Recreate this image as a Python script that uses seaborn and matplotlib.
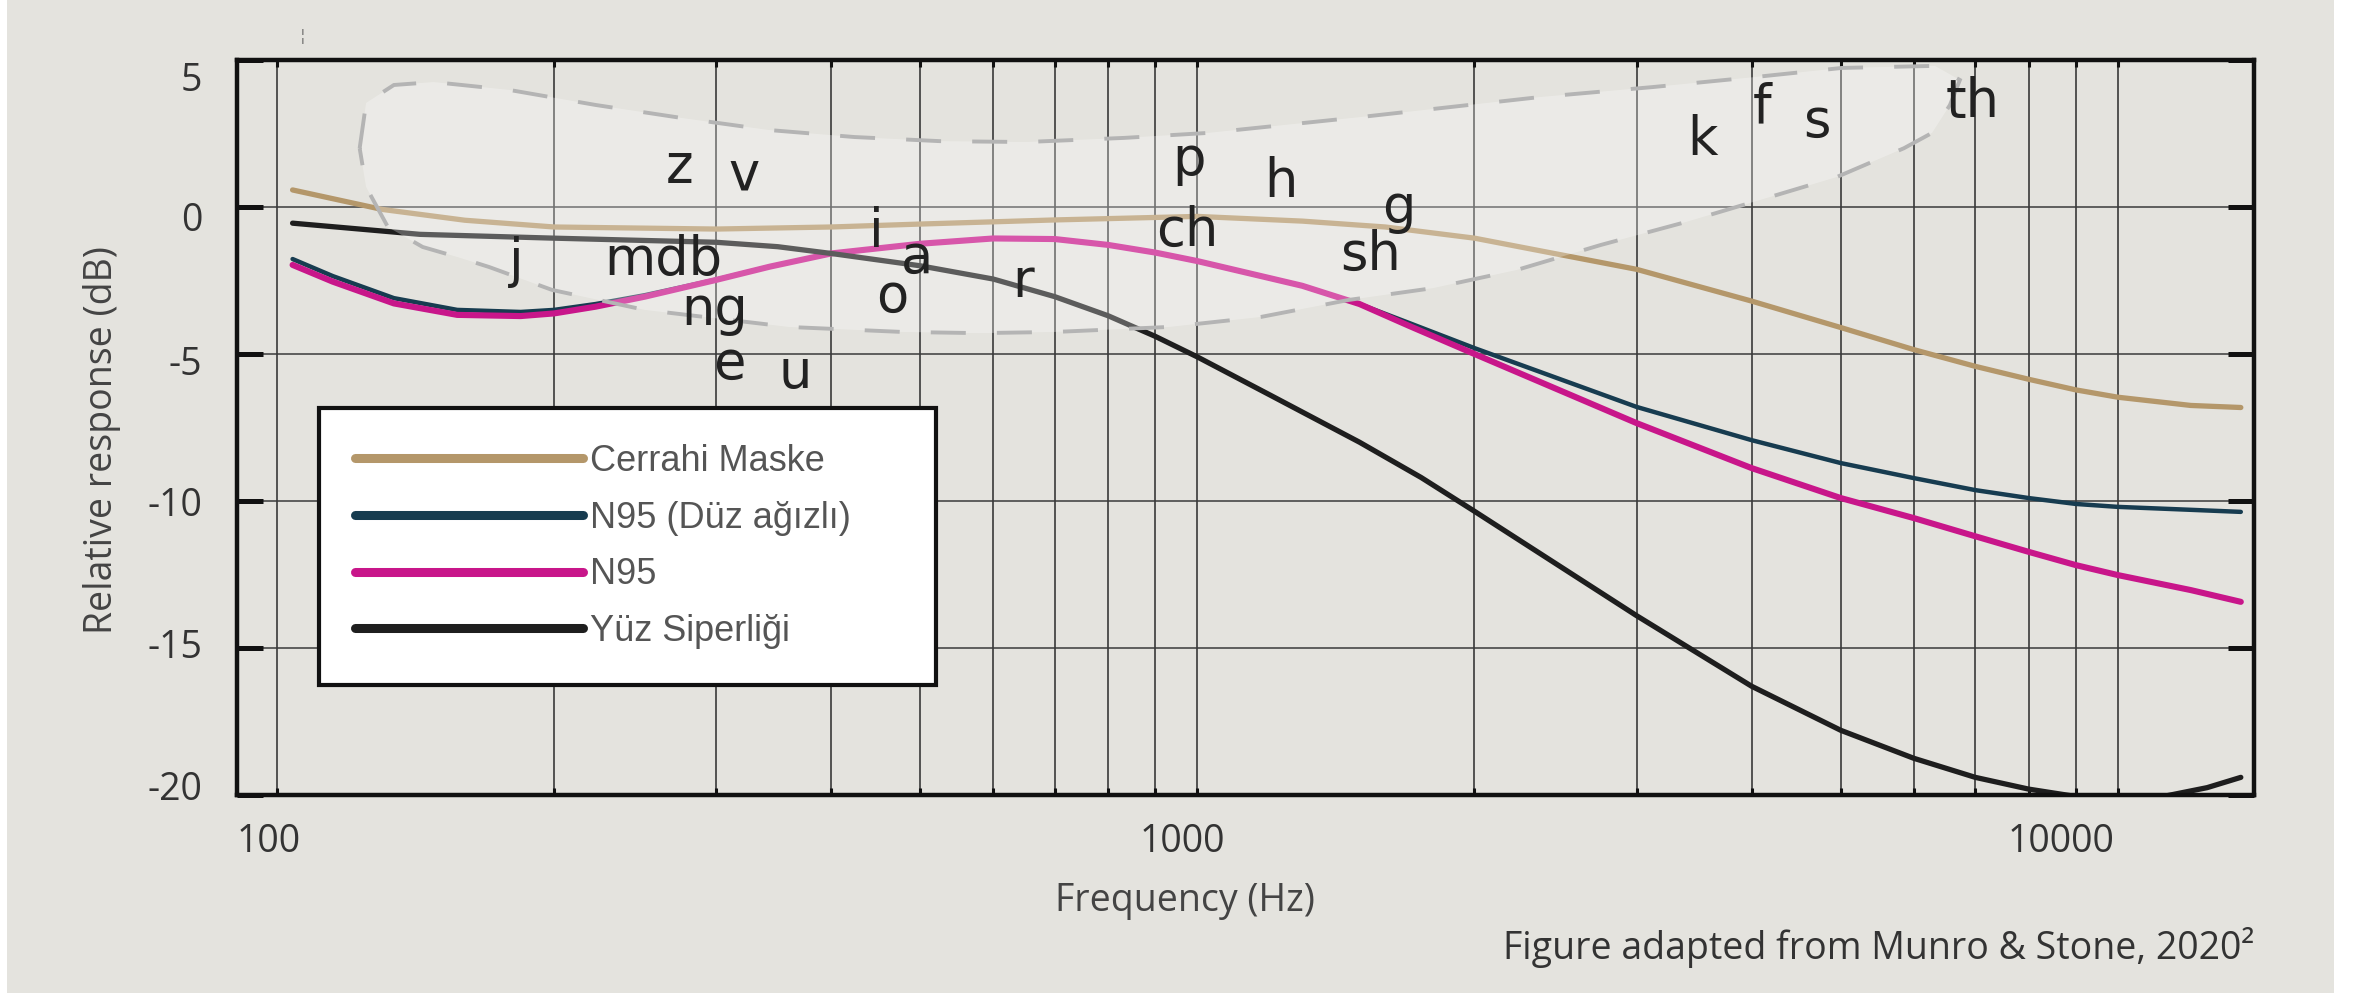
import numpy as np
import pandas as pd
import matplotlib
matplotlib.use('Agg')
import matplotlib.pyplot as plt
import matplotlib.transforms as mtransforms
from matplotlib.patches import Rectangle
from matplotlib.ticker import LogLocator, NullFormatter
import seaborn as sns

# Curves: frequency (Hz) and relative response (dB)
cerrahi_freq = [104, 130, 160, 200, 300, 400, 500, 700, 1000, 1300, 1600, 2000,
                3000, 4000, 5000, 6000, 7000, 8000, 9000, 10000, 12000, 13600]
cerrahi_db = [0.58, -0.08, -0.45, -0.68, -0.75, -0.68, -0.58, -0.44, -0.32, -0.48,
              -0.68, -1.06, -2.12, -3.2, -4.1, -4.85, -5.42, -5.86, -6.22, -6.47,
              -6.75, -6.82]

n95_flat_freq = [104, 115, 134, 157, 184, 200, 222, 251, 300, 343, 400, 500, 600,
                 700, 800, 900, 1000, 1300, 1500, 1700, 2000, 3000, 4000, 5000,
                 6000, 7000, 8000, 9000, 10000, 12000, 13600]
n95_flat_db = [-1.77, -2.35, -3.1, -3.5, -3.57, -3.5, -3.3, -3.0, -2.47, -2.03,
               -1.58, -1.25, -1.07, -1.09, -1.29, -1.55, -1.84, -2.68, -3.3, -3.95,
               -4.8, -6.8, -7.93, -8.71, -9.22, -9.63, -9.9, -10.1, -10.2, -10.3,
               -10.37]

n95_freq = [104, 115, 134, 157, 184, 200, 222, 251, 300, 343, 400, 500, 600, 700,
            800, 900, 1000, 1300, 1500, 1700, 2000, 3000, 4000, 5000, 6000, 7000,
            8000, 9000, 10000, 12000, 13600]
n95_db = [-1.97, -2.54, -3.28, -3.67, -3.71, -3.62, -3.39, -3.05, -2.48, -2.03,
          -1.58, -1.25, -1.07, -1.09, -1.29, -1.55, -1.84, -2.68, -3.3, -4.05,
          -5.0, -7.35, -8.88, -9.9, -10.58, -11.2, -11.73, -12.18, -12.52, -13.03,
          -13.43]

shield_freq = [104, 143, 200, 300, 350, 400, 500, 600, 700, 800, 900, 1000, 1200,
               1500, 1750, 2000, 3000, 4000, 5000, 6000, 7000, 8000, 9000, 10000,
               11200, 12500, 13600]
shield_db = [-0.55, -0.93, -1.06, -1.2, -1.35, -1.58, -2.0, -2.45, -3.05, -3.7,
             -4.4, -5.1, -6.4, -8.0, -9.2, -10.35, -13.9, -16.3, -17.8, -18.75,
             -19.4, -19.8, -20.05, -20.15, -20.05, -19.75, -19.4]

series_names = ['Cerrahi Maske', 'N95 (Düz ağızlı)', 'N95', 'Yüz Siperliği']

# Speech "banana" outline (frequency, dB)
banana_freq = [123, 125, 134, 148, 179, 222, 275, 342, 424, 525, 651, 832, 1027,
               1505, 2356, 3125, 4033, 5013, 6327, 6735, 6570, 6282, 5856, 4950,
               4188, 3394, 2744, 2224, 1802, 1461, 1172, 931, 700, 579, 478, 360,
               251, 199, 170, 157, 144, 132, 125]
banana_db = [2.0, 3.54, 4.15, 4.25, 3.98, 3.47, 3.03, 2.62, 2.38, 2.24, 2.21, 2.35,
             2.52, 3.06, 3.74, 4.08, 4.42, 4.73, 4.80, 4.32, 3.47, 2.52, 2.0, 1.02,
             0.34, -0.51, -1.29, -2.14, -2.76, -3.16, -3.74, -4.08, -4.25, -4.29,
             -4.25, -4.08, -3.5, -2.82, -2.04, -1.70, -1.36, -0.68, 0.68]

phoneme_labels = ['z', 'v', 'j', 'mdb', 'ng', 'e', 'u', 'i', 'a', 'o', 'r', 'p',
                  'ch', 'h', 'g', 'sh', 'k', 'f', 's', 'th']
phoneme_freq = [274, 322, 182, 263, 299, 310, 366, 448, 496, 466, 646, 980, 975,
                1233, 1656, 1543, 3540, 4110, 4707, 6950]
phoneme_db = [1.36, 1.09, -1.87, -1.8, -3.5, -5.35, -5.65, -0.85, -1.73, -3.06,
              -2.55, 1.6, -0.8, 0.85, -0.03, -1.63, 2.28, 3.4, 2.9, 3.57]

x_ticks = [100, 1000, 10000]
x_tick_labels = ['100', '1000', '10000']
y_ticks = [5, 0, -5, -10, -15, -20]

# styling
BG = '#e4e3de'
line_colors = ['#b4976a', '#173c50', '#c8168a', '#1e1e1e']
line_widths = [3.8, 3.2, 4.4, 3.8]
x_label_shift = [-8, -15, -57]          # pixels
y_label_shift = [-17, -10, -7, 0, 5, 9]  # pixels


def build_df():
    frames = []
    for name, f, d in zip(series_names,
                          [cerrahi_freq, n95_flat_freq, n95_freq, shield_freq],
                          [cerrahi_db, n95_flat_db, n95_db, shield_db]):
        frames.append(pd.DataFrame({'Frequency': f, 'Response': d, 'Mask': name}))
    return pd.concat(frames, ignore_index=True)


def plot_chart(df):
    sns.set_style('ticks')
    plt.rcParams['font.family'] = ['Open Sans', 'DejaVu Sans']
    plt.rcParams['axes.unicode_minus'] = False
    plt.rcParams['lines.solid_capstyle'] = 'round'

    fig = plt.figure(figsize=(23.54, 9.93), dpi=100, facecolor='white')
    fig.add_artist(Rectangle((7 / 2354, 0), (2334 - 7) / 2354, 1,
                             transform=fig.transFigure, facecolor=BG,
                             edgecolor='none', zorder=-10))
    ax = fig.add_axes([237 / 2354, 1 - 795 / 993, 2017 / 2354, 735 / 993])
    ax.set_facecolor(BG)
    ax.set_xscale('log')

    for name, color, lw in zip(series_names, line_colors, line_widths):
        sns.lineplot(data=df[df['Mask'] == name], x='Frequency', y='Response',
                     color=color, linewidth=lw, estimator=None, sort=False,
                     label=name, legend=False, ax=ax, zorder=2)

    # speech banana, drawn over the curves so they fade inside it
    ax.fill(banana_freq, banana_db, facecolor=(1, 1, 1, 0.28),
            edgecolor='#b4b4b4', linestyle=(0, (9, 8)), linewidth=2.8, zorder=3)

    for lbl, f, d in zip(phoneme_labels, phoneme_freq, phoneme_db):
        ax.text(f, d, lbl, fontsize=38, family='DejaVu Sans', color='#222222',
                ha='center', va='center', zorder=4)

    ax.set_xlim(90.5, 14056)
    ax.set_ylim(-20, 5)
    ax.set_xticks(x_ticks, x_tick_labels)
    ax.xaxis.set_minor_locator(LogLocator(base=10, subs=np.arange(2, 10)))
    ax.xaxis.set_minor_formatter(NullFormatter())
    ax.set_yticks(y_ticks, [str(v) for v in y_ticks])

    ax.grid(True, which='both', axis='x', color='#2a2a2a', linewidth=1.1)
    ax.grid(True, which='major', axis='y', color='#3a3a3a', linewidth=1.1)

    ax.tick_params(axis='y', which='major', direction='in', left=True, right=True,
                   length=19, width=3.6, color='#111111', pad=25,
                   labelsize=27, labelcolor='#333333')
    ax.tick_params(axis='x', which='both', direction='in', top=True, bottom=True,
                   length=5, width=2.2, color='#111111')
    ax.tick_params(axis='x', which='major', pad=20, labelsize=27,
                   labelcolor='#333333')
    for s in ax.spines.values():
        s.set_visible(True)
        s.set_linewidth(3.2)
        s.set_color('#111111')

    for lab, dx in zip(ax.get_xticklabels(), x_label_shift):
        lab.set_transform(lab.get_transform() +
                          mtransforms.ScaledTranslation(dx / 100, 0, fig.dpi_scale_trans))
    for lab, dy in zip(ax.get_yticklabels(), y_label_shift):
        lab.set_transform(lab.get_transform() +
                          mtransforms.ScaledTranslation(0, dy / 100, fig.dpi_scale_trans))

    ax.set_xlabel('Frequency (Hz)', fontsize=27, color='#444444', va='center')
    ax.xaxis.set_label_coords(0.470, -0.144)
    ax.set_ylabel('Relative response (dB)', fontsize=27, color='#444444', va='center')
    ax.yaxis.set_label_coords(-0.067, 0.483)

    leg = ax.legend(loc='upper left', bbox_to_anchor=(0.0407, 0.1483, 0.3059, 0.3782),
                    mode='expand', borderaxespad=0,
                    prop={'family': ['Liberation Sans Narrow', 'Liberation Sans'],
                          'size': 26},
                    labelcolor='#555555', handlelength=6.3, handletextpad=0.2,
                    labelspacing=0.6, borderpad=1.0, fancybox=False,
                    framealpha=1, facecolor='white', edgecolor='#111111')
    leg.get_frame().set_linewidth(3)
    leg.set_zorder(6)
    for line in leg.get_lines():
        line.set_linewidth(6.5)
        line.set_solid_capstyle('round')

    fig.text(2254 / 2354, 1 - 947 / 993, 'Figure adapted from Munro & Stone, 2020²',
             ha='right', va='center', fontsize=27, color='#333333')
    fig.text(303 / 2354, 1 - 37 / 993, '¦', ha='center', va='center',
             fontsize=10, color='#555555')

    fig.savefig('out.png', dpi=100, facecolor=fig.get_facecolor())


def main():
    df = build_df()
    plot_chart(df)


main()
